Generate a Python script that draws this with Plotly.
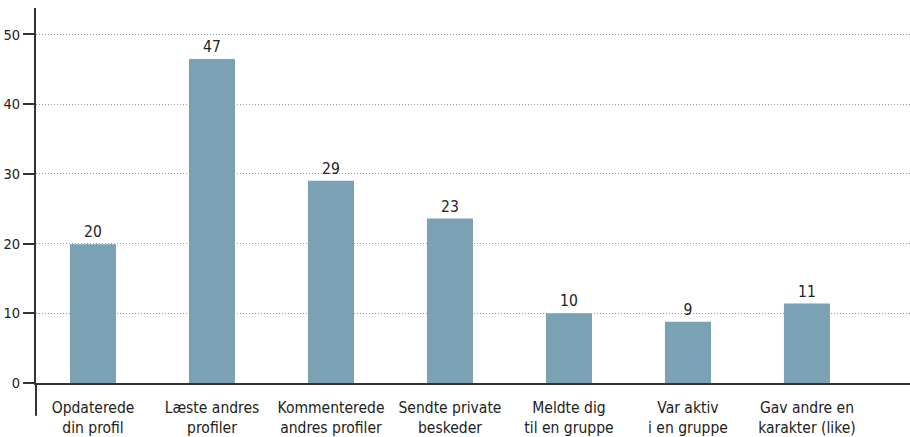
import plotly.graph_objects as go

categories = ["Opdaterede<br>din profil", "Læste andres<br>profiler", "Kommenterede<br>andres profiler",
              "Sendte private<br>beskeder", "Meldte dig<br>til en gruppe", "Var aktiv<br>i en gruppe",
              "Gav andre en<br>karakter (like)"]
values = [19.9, 46.5, 29.0, 23.6, 10.0, 8.8, 11.4]
value_labels = ["20", "47", "29", "23", "10", "9", "11"]
y_ticks = [0, 10, 20, 30, 40, 50]

FONT = "DejaVu Sans Condensed, DejaVu Sans, sans-serif"
TXT = "#222222"

fig = go.Figure(go.Bar(
    x=list(range(len(categories))), y=values,
    marker=dict(color="#7aa1b4", line=dict(width=0)),
    width=0.387,
    text=value_labels, textposition="outside", cliponaxis=False,
    textfont=dict(family=FONT, size=15.5, color=TXT),
))

fig.update_layout(
    width=910, height=437,
    margin=dict(l=36, r=0, t=8, b=52),
    plot_bgcolor="white", paper_bgcolor="white",
    showlegend=False,
    font=dict(family=FONT, color=TXT),
    xaxis=dict(
        range=[-0.479, 6.866],
        tickmode="array", tickvals=list(range(len(categories))), ticktext=categories,
        tickfont=dict(family=FONT, size=15.5, color=TXT),
        showgrid=False, zeroline=False,
        showline=True, linecolor="#333333", linewidth=2,
        ticks="outside", ticklen=9, tickcolor="rgba(0,0,0,0)",
        fixedrange=True,
    ),
    yaxis=dict(
        range=[0, 53.8],
        tickmode="array", tickvals=y_ticks,
        tickfont=dict(family=FONT, size=14.5, color=TXT),
        showgrid=True, gridcolor="#9a9a9a", griddash="1px,2px", gridwidth=1,
        zeroline=False,
        showline=True, linecolor="#333333", linewidth=2,
        ticks="outside", ticklen=11, tickcolor="#333333", tickwidth=1.5,
        fixedrange=True,
    ),
    shapes=[dict(type="line", xref="paper", yref="paper", x0=0, x1=0, y0=0, y1=-0.0875,
                 line=dict(color="#333333", width=2))],
)

fig.write_html("out.html")
